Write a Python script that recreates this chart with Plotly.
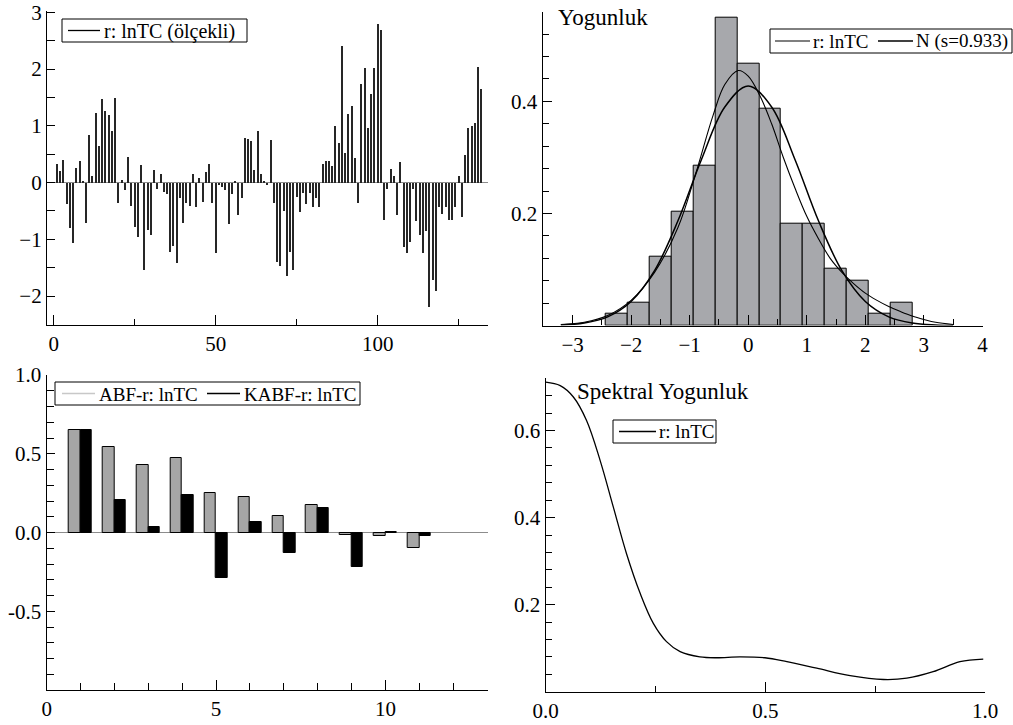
import plotly.graph_objects as go

# ---------------- data ----------------
# Panel 1: scaled residuals r: lnTC, t = 1..132
t_obs = list(range(1, 133))
resid = [0.34, 0.21, 0.40, -0.37, -0.80, -1.06, 0.27, 0.39, 0.02, -0.71,
         0.85, 0.12, 1.23, 0.65, 1.48, 1.26, 1.20, 0.92, 1.49, -0.35,
         0.06, -0.12, 0.46, -0.40, -0.77, -0.96, 0.32, -1.53, -0.83, -0.91,
         0.23, -0.10, 0.16, -0.16, -0.19, -1.21, -1.12, -1.42, -0.27, -0.70,
         -0.35, -0.40, 0.16, -0.42, 0.09, -0.33, 0.19, 0.34, -0.36, -1.24,
         -0.04, -0.07, -0.12, -0.73, -0.20, 0.04, -0.56, -0.27, 0.80, 0.78,
         0.73, 0.23, 0.91, 0.15, 0.02, -0.04, 0.75, -0.35, -1.39, -1.47,
         -0.49, -1.64, -1.22, -1.54, -0.25, -0.51, -0.18, -0.37, -0.18, -0.42,
         -0.26, -0.42, 0.34, 0.39, 0.39, 0.29, 1.00, 0.70, 2.42, 0.53,
         1.22, 1.35, 0.44, -0.36, 1.75, 2.02, 0.96, 1.56, 2.02, 2.80,
         2.69, -0.65, -0.10, 0.25, 0.13, -0.56, 0.36, -1.13, -1.24, -1.05,
         -0.10, -0.67, -0.92, -1.24, -0.84, -2.18, -1.71, -1.90, -0.42, -0.55,
         -0.43, -0.65, -0.65, -0.42, 0.13, -0.60, 0.50, 0.97, 1.01, 1.06,
         2.05, 1.65]

# Panel 2: histogram density
bin_left = [-2.43, -2.056, -1.682, -1.308, -0.934, -0.56, -0.186, 0.188,
            0.562, 0.936, 1.31, 1.684, 2.058, 2.432]
bin_width = 0.374
hist_density = [0.021, 0.041, 0.123, 0.204, 0.285, 0.549, 0.468, 0.387,
                0.182, 0.182, 0.102, 0.081, 0.021, 0.041]
kde_x = [-3.2, -2.8, -2.4, -2.0, -1.6, -1.2, -0.9, -0.6, -0.4, -0.17, 0.0,
         0.2, 0.4, 0.6, 0.8, 1.0, 1.2, 1.4, 1.6, 1.8, 2.0, 2.2, 2.4, 2.6,
         2.8, 3.0, 3.2, 3.5]
kde_y = [0.002, 0.006, 0.018, 0.045, 0.095, 0.175, 0.27, 0.375, 0.43, 0.455,
         0.445, 0.41, 0.36, 0.30, 0.245, 0.195, 0.155, 0.12, 0.095, 0.075,
         0.058, 0.045, 0.034, 0.025, 0.017, 0.011, 0.006, 0.002]
norm_x = [-3.2, -2.8, -2.4, -2.0, -1.6, -1.2, -0.8, -0.4, 0.0, 0.4, 0.8,
          1.2, 1.6, 2.0, 2.4, 2.8, 3.2, 3.5]
norm_y = [0.0012, 0.0047, 0.0156, 0.043, 0.098, 0.187, 0.296, 0.390, 0.4276,
          0.390, 0.296, 0.187, 0.098, 0.043, 0.0156, 0.0047, 0.0012, 0.0004]

# Panel 3: ACF / PACF
lags = list(range(1, 12))
abf = [0.648, 0.540, 0.428, 0.470, 0.250, 0.227, 0.102, 0.172, -0.015, -0.023, -0.100]
kabf = [0.648, 0.208, 0.032, 0.237, -0.292, 0.068, -0.129, 0.153, -0.220, 0.004, -0.021]

# Panel 4: spectral density
freq = [0.0, 0.033, 0.063, 0.093, 0.124, 0.154, 0.184, 0.215, 0.245, 0.275,
        0.306, 0.351, 0.389, 0.442, 0.499, 0.549, 0.617, 0.693, 0.769, 0.822,
        0.882, 0.943, 0.996]
spec = [0.711, 0.703, 0.677, 0.623, 0.531, 0.424, 0.317, 0.226, 0.157, 0.115,
        0.092, 0.080, 0.078, 0.080, 0.078, 0.069, 0.054, 0.037, 0.028, 0.031,
        0.046, 0.069, 0.075]

# legend / title texts
legend1_labels = ["r: lnTC (ölçekli)"]
legend2_labels = ["r: lnTC", "N (s=0.933)"]
legend3_labels = ["ABF-r: lnTC", "KABF-r: lnTC"]
legend4_labels = ["r: lnTC"]
title_hist = "Yogunluk"
title_spec = "Spektral Yogunluk"

# ---------------- figure ----------------
W, H = 1013, 725
FONT = "Liberation Serif"
TICKSIZE = 21

def px_x(p):
    return p / W

def px_y(p):
    return 1 - p / H

fig = go.Figure()

fig.add_trace(go.Bar(x=t_obs, y=resid, width=0.45, marker=dict(color="#262626", line=dict(width=0)),
                     xaxis="x", yaxis="y", name=legend1_labels[0]))

fig.add_trace(go.Bar(x=bin_left, y=hist_density, width=bin_width, offset=0,
                     marker=dict(color="#a7a8ac", line=dict(color="black", width=1)),
                     xaxis="x2", yaxis="y2", name="hist"))
fig.add_trace(go.Scatter(x=kde_x, y=kde_y, mode="lines", line=dict(color="black", width=1.1, shape="spline"),
                         name=legend2_labels[0], xaxis="x2", yaxis="y2"))
fig.add_trace(go.Scatter(x=norm_x, y=norm_y, mode="lines", line=dict(color="black", width=1.5, shape="spline"),
                         name=legend2_labels[1], xaxis="x2", yaxis="y2"))

fig.add_trace(go.Bar(x=lags, y=abf, width=0.34, offset=-0.34,
                     marker=dict(color="#a6a6a6", line=dict(color="black", width=1)),
                     xaxis="x3", yaxis="y3", name=legend3_labels[0]))
fig.add_trace(go.Bar(x=lags, y=kabf, width=0.34, offset=0,
                     marker=dict(color="black", line=dict(color="black", width=1)),
                     xaxis="x3", yaxis="y3", name=legend3_labels[1]))

fig.add_trace(go.Scatter(x=freq, y=spec, mode="lines", line=dict(color="black", width=1.3, shape="spline"),
                         name=legend4_labels[0], xaxis="x4", yaxis="y4"))

tickfont = dict(family=FONT, size=TICKSIZE, color="black")

def axis(domain, rng, **kw):
    d = dict(domain=domain, range=rng, showline=True, linecolor="black", linewidth=1.3,
             ticks="inside", ticklen=10, tickwidth=1.2, tickcolor="black",
             showgrid=False, zeroline=False, tickfont=tickfont, fixedrange=True,
             automargin=False)
    d.update(kw)
    return d

def minor(dt, t0=0, ln=6):
    return dict(ticks="inside", tickmode="linear", tick0=t0, dtick=dt, ticklen=ln,
                tickwidth=1, tickcolor="black", showgrid=False)

fig.update_layout(
    width=W, height=H, margin=dict(l=0, r=0, t=0, b=0, autoexpand=False),
    paper_bgcolor="white", plot_bgcolor="white",
    font=dict(family=FONT, color="black"),
    barmode="overlay", bargap=0, showlegend=False,
    xaxis=axis([px_x(47), px_x(488)], [-2.1, 134], anchor="y",
               tickmode="linear", tick0=0, dtick=50, minor=minor(25)),
    yaxis=axis([px_y(325), px_y(10.7)], [-2.51, 3.03], anchor="x",
               tickmode="linear", tick0=0, dtick=1, ticklen=8, minor=minor(0.5, ln=8),
               zeroline=True, zerolinecolor="#8c8c8c", zerolinewidth=1),
    xaxis2=axis([px_x(542.7), px_x(982.7)], [-3.51, 4.005], anchor="y2",
                tickmode="linear", tick0=0, dtick=1, minor=minor(0.5)),
    yaxis2=axis([px_y(325.6), px_y(11.7)], [0, 0.56], anchor="x2",
                tickmode="array", tickvals=[0.2, 0.4], ticktext=["0.2", "0.4"],
                ticklen=9, minor=minor(0.04)),
    xaxis3=axis([px_x(46.7), px_x(487.7)], [0, 13.02], anchor="y3",
                tickmode="array", tickvals=[0, 5, 10], ticktext=["0", "5", "10"], minor=minor(1, ln=7)),
    yaxis3=axis([px_y(690), px_y(375)], [-1.0, 1.0], anchor="x3",
                tickmode="array", tickvals=[-1.0, -0.5, 0.0, 0.5, 1.0],
                ticktext=["", "-0.5", "0.0", "0.5", "1.0"], ticklen=8, minor=minor(0.1, ln=7),
                zeroline=True, zerolinecolor="#8c8c8c", zerolinewidth=1),
    xaxis4=axis([px_x(545.7), px_x(985)], [0, 1.0], anchor="y4",
                tickmode="array", tickvals=[0, 0.5, 1.0], ticktext=["0.0", "0.5", "1.0"],
                minor=minor(0.25)),
    yaxis4=axis([px_y(691.7), px_y(378.3)], [0, 0.72], anchor="x4",
                tickmode="array", tickvals=[0.2, 0.4, 0.6], ticktext=["0.2", "0.4", "0.6"],
                ticklen=9, minor=minor(0.04)),
)

# ---- hand-drawn legend boxes (pixel layout) ----
def legend_box(x0, x1, y0, y1, items, size):
    """items: list of (line_x0, line_x1, text_x, label, color, width)"""
    yc = (y0 + y1) / 2
    fig.add_shape(type="rect", xref="paper", yref="paper",
                  x0=px_x(x0), x1=px_x(x1), y0=px_y(y1), y1=px_y(y0),
                  line=dict(color="black", width=1), fillcolor="white", layer="above")
    for lx0, lx1, tx, label, color, lw in items:
        fig.add_shape(type="line", xref="paper", yref="paper",
                      x0=px_x(lx0), x1=px_x(lx1), y0=px_y(yc), y1=px_y(yc),
                      line=dict(color=color, width=lw), layer="above")
        fig.add_annotation(text=label, xref="paper", yref="paper", x=px_x(tx), y=px_y(yc + 0.5),
                           xanchor="left", yanchor="middle", showarrow=False,
                           font=dict(family=FONT, size=size, color="black"))

legend_box(62, 247, 19, 42, [(68, 100, 102, legend1_labels[0], "black", 1.3)], 20)
legend_box(770, 1012, 29, 53, [(775, 810, 811, legend2_labels[0], "black", 1.1),
                               (878, 913, 914, legend2_labels[1], "black", 1.5)], 19)
legend_box(55, 360, 382, 405, [(62, 95, 97, legend3_labels[0], "#c8c8c8", 1.5),
                               (207, 240, 242, legend3_labels[1], "black", 1.5)], 19)
legend_box(613, 716, 420, 443, [(619, 656, 657, legend4_labels[0], "black", 1.3)], 19)

fig.add_annotation(text=title_hist, xref="paper", yref="paper", x=px_x(556), y=px_y(17),
                   xanchor="left", yanchor="middle", showarrow=False,
                   font=dict(family=FONT, size=23, color="black"))
fig.add_annotation(text=title_spec, xref="paper", yref="paper", x=px_x(575), y=px_y(392),
                   xanchor="left", yanchor="middle", showarrow=False,
                   font=dict(family=FONT, size=23, color="black"))

fig.write_html("out.html")
